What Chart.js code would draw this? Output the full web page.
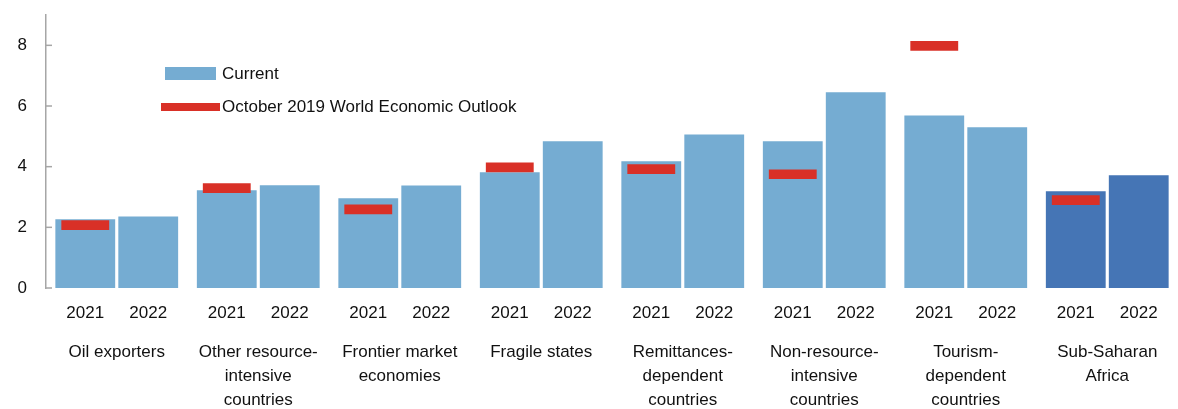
<!DOCTYPE html>
<html>
<head>
<meta charset="utf-8">
<script src="https://cdn.jsdelivr.net/npm/chart.js@4"></script>
<style>
  html, body { margin: 0; padding: 0; background: #fff; }
  #wrap { width: 1178px; height: 409px; }
</style>
</head>
<body>
<div id="wrap"><canvas id="growth"></canvas></div>
<script>
    const groups = [
        ['Oil exporters'],
        ['Other resource-', 'intensive', 'countries'],
        ['Frontier market', 'economies'],
        ['Fragile states'],
        ['Remittances-', 'dependent', 'countries'],
        ['Non-resource-', 'intensive', 'countries'],
        ['Tourism-', 'dependent', 'countries'],
        ['Sub-Saharan', 'Africa'],
    ];
    const years = ['2021', '2022'];
    const current2021 = [2.27, 3.22, 2.96, 3.82, 4.18, 4.84, 5.69, 3.19];
    const current2022 = [2.36, 3.39, 3.38, 4.84, 5.06, 6.45, 5.30, 3.72];
    const weoOct2019 = [2.07, 3.29, 2.59, 3.98, 3.92, 3.75, 7.98, 2.90];
    const yTicks = [0, 2, 4, 6, 8];

    const lightBlue = '#75ACD2';
    const darkBlue = '#4575B5';
    const red = '#D93027';
    const font = 'Liberation Sans, Arial, sans-serif';

    // Sub-Saharan Africa total gets the darker blue
    const barColour = ctx => ctx.dataIndex === groups.length - 1 ? darkBlue : lightBlue;

    // year labels under each bar, group names under each pair, legend, inward ticks
    const extras = {
        id: 'extras',
        afterDraw(chart) {
            const ctx = chart.ctx;
            const area = chart.chartArea;
            const x = chart.scales.x;
            const y = chart.scales.y;
            ctx.save();
            ctx.fillStyle = '#111';
            ctx.font = '17px ' + font;
            ctx.textAlign = 'center';
            ctx.textBaseline = 'middle';

            [0, 2].forEach((dsIndex, k) => {
                chart.getDatasetMeta(dsIndex).data.forEach(bar => {
                    ctx.fillText(years[k], bar.x, area.bottom + 25);
                });
            });

            groups.forEach((lines, i) => {
                const cx = x.getPixelForValue(i);
                lines.forEach((line, j) => {
                    ctx.fillText(line, cx, area.bottom + 64 + j * 24);
                });
            });

            // inward tick marks on the y axis
            ctx.strokeStyle = '#A6A6A6';
            ctx.lineWidth = 1.5;
            yTicks.forEach(t => {
                const py = y.getPixelForValue(t);
                ctx.beginPath();
                ctx.moveTo(area.left, py);
                ctx.lineTo(area.left + 6, py);
                ctx.stroke();
            });

            // legend
            ctx.textAlign = 'left';
            ctx.fillStyle = lightBlue;
            ctx.fillRect(165, 67, 51, 13);
            ctx.fillStyle = red;
            ctx.fillRect(161, 103, 59, 8);
            ctx.fillStyle = '#111';
            ctx.fillText(chart.data.datasets[0].label, 222, 74);
            ctx.fillText(chart.data.datasets[1].label, 222, 107);
            ctx.restore();
        }
    };

    new Chart(
        document.getElementById('growth'),
        {
            type: 'bar',
            data: {
                labels: groups,
                datasets: [
                    {
                        label: 'Current',
                        data: current2021,
                        stack: 'y2021',
                        backgroundColor: barColour,
                        categoryPercentage: 0.89,
                        barPercentage: 0.95,
                        order: 1
                    },
                    {
                        label: 'October 2019 World Economic Outlook',
                        data: weoOct2019.map(v => [v - 0.16, v + 0.16]),
                        stack: 'y2021',
                        backgroundColor: red,
                        categoryPercentage: 0.89,
                        barPercentage: 0.76,
                        order: 0
                    },
                    {
                        label: 'Current 2022',
                        data: current2022,
                        stack: 'y2022',
                        backgroundColor: barColour,
                        categoryPercentage: 0.89,
                        barPercentage: 0.95,
                        order: 1
                    },
                ]
            },
            options: {
                responsive: true,
                maintainAspectRatio: false,
                animation: false,
                layout: {
                    padding: { top: 15, bottom: 121, left: 0, right: 0 }
                },
                plugins: {
                    legend: { display: false },
                    tooltip: { enabled: false }
                },
                scales: {
                    x: {
                        display: false,
                        stacked: true
                    },
                    y: {
                        stacked: false,
                        min: 0,
                        max: 9,
                        afterFit: scale => {
                            scale.width = 46;
                            scale.paddingTop = 0;
                            scale.paddingBottom = 0;
                        },
                        grid: { display: false, drawTicks: false },
                        border: { display: true, color: '#A6A6A6', width: 1.5 },
                        ticks: {
                            stepSize: 2,
                            includeBounds: false,
                            padding: 19,
                            color: '#111',
                            font: { family: font, size: 17 }
                        }
                    }
                }
            },
            plugins: [extras]
        }
    );
</script>
</body>
</html>
